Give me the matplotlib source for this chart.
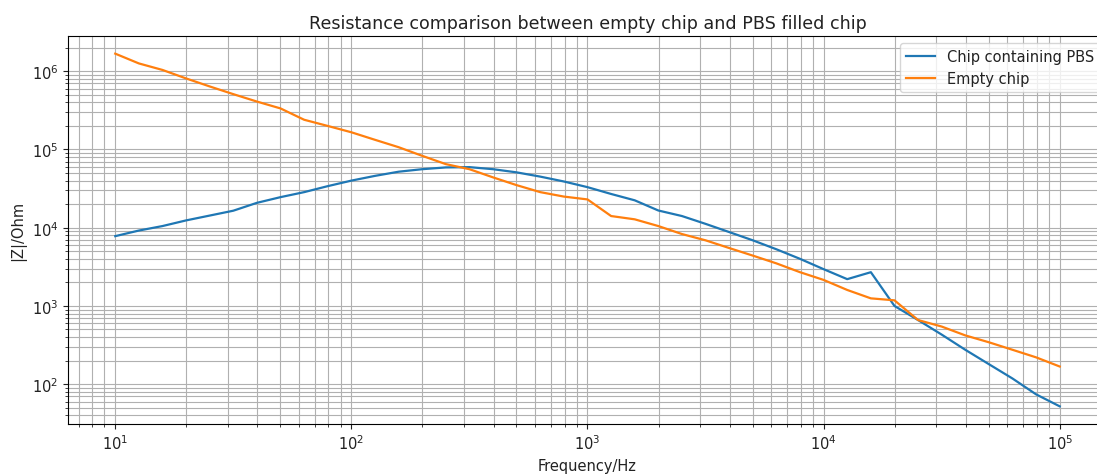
import matplotlib
matplotlib.use("Agg")
import matplotlib.pyplot as plt

freq = [10, 12.59, 15.85, 19.95, 25.12, 31.62, 39.81, 50.12, 63.10, 79.43,
        100, 125.9, 158.5, 199.5, 251.2, 316.2, 398.1, 501.2, 631.0, 794.3,
        1000, 1259, 1585, 1995, 2512, 3162, 3981, 5012, 6310, 7943,
        10000, 12589, 15849, 19953, 25119, 31623, 39811, 50119, 63096, 79433,
        100000]

z_pbs = [7.8e3, 9.2e3, 1.05e4, 1.24e4, 1.43e4, 1.65e4, 2.08e4, 2.46e4, 2.85e4, 3.4e4,
         4.0e4, 4.6e4, 5.2e4, 5.6e4, 5.9e4, 5.95e4, 5.6e4, 5.1e4, 4.5e4, 3.9e4,
         3.3e4, 2.7e4, 2.24e4, 1.66e4, 1.41e4, 1.12e4, 8.8e3, 6.9e3, 5.3e3, 4.0e3,
         2.95e3, 2.2e3, 2.7e3, 1.0e3, 660, 430, 275, 180, 118, 74,
         52]

z_empty = [1.68e6, 1.26e6, 1.04e6, 8.1e5, 6.4e5, 5.1e5, 4.1e5, 3.35e5, 2.4e5, 2.0e5,
           1.66e5, 1.33e5, 1.07e5, 8.3e4, 6.5e4, 5.6e4, 4.4e4, 3.5e4, 2.85e4, 2.5e4,
           2.3e4, 1.41e4, 1.28e4, 1.05e4, 8.3e3, 6.9e3, 5.5e3, 4.4e3, 3.5e3, 2.7e3,
           2.15e3, 1.6e3, 1.25e3, 1.18e3, 660, 545, 420, 343, 275, 220,
           168]

labels = ["Chip containing PBS", "Empty chip"]

plt.rcParams["font.size"] = 10.5
plt.rcParams["text.color"] = "#222222"
plt.rcParams["axes.labelcolor"] = "#222222"
plt.rcParams["xtick.color"] = "#222222"
plt.rcParams["ytick.color"] = "#222222"

fig = plt.figure(figsize=(10.97, 4.77), dpi=100)
ax = fig.add_axes([0.062, 0.109, 0.9471, 0.8134])
ax.plot(freq, z_pbs, label=labels[0], linewidth=1.6)
ax.plot(freq, z_empty, label=labels[1], linewidth=1.6)
ax.set_xscale("log")
ax.set_yscale("log")
ax.grid(True, which="both")
ax.set_xlabel("Frequency/Hz")
ax.set_ylabel("|Z|/Ohm")
ax.set_title("Resistance comparison between empty chip and PBS filled chip", fontsize=12.6)
ax.legend(loc="upper right")
fig.savefig("out.png", dpi=100)
